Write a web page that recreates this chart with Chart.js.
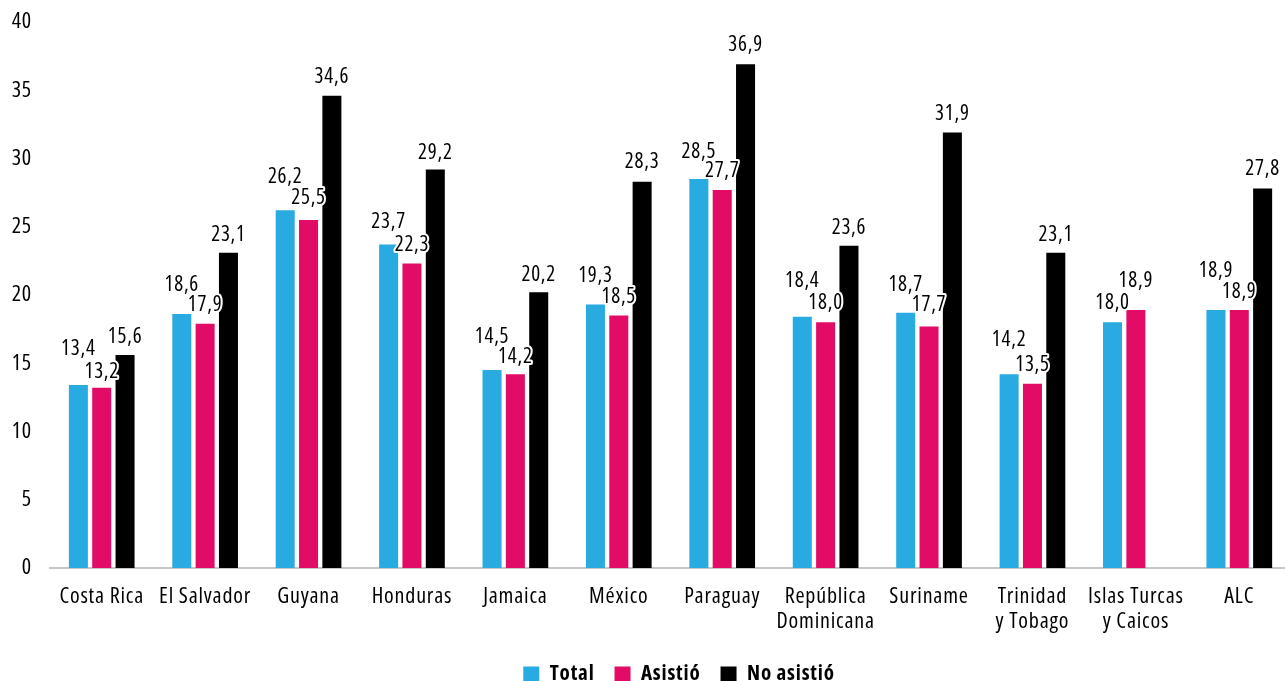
<!DOCTYPE html>
<html>
<head>
<meta charset="utf-8">
<script src="https://cdn.jsdelivr.net/npm/chart.js@4/dist/chart.umd.min.js"></script>
<style>
  html, body { margin: 0; padding: 0; background: #fff; overflow: hidden; }
  #wrap { width: 1291px; height: 681px; position: relative; }
</style>
</head>
<body>
<div id="wrap"><canvas id="c"></canvas></div>
<script>
const categories = [
  'Costa Rica', 'El Salvador', 'Guyana', 'Honduras', 'Jamaica', 'México',
  'Paraguay', ['República', 'Dominicana'], 'Suriname', ['Trinidad', 'y Tobago'],
  ['Islas Turcas', 'y Caicos'], 'ALC'
];
const total     = [13.4, 18.6, 26.2, 23.7, 14.5, 19.3, 28.5, 18.4, 18.7, 14.2, 18.0, 18.9];
const asistio   = [13.2, 17.9, 25.5, 22.3, 14.2, 18.5, 27.7, 18.0, 17.7, 13.5, 18.9, 18.9];
const noAsistio = [15.6, 23.1, 34.6, 29.2, 20.2, 28.3, 36.9, 23.6, 31.9, 23.1, null, 27.8];
const yTicks = [0, 5, 10, 15, 20, 25, 30, 35, 40];

// How far (px) each value label sits above its bar, per series, so that
// neighbouring labels step around each other instead of colliding.
const labelLift = [
  [36, 29, 33, 22, 33, 29, 27, 36, 28, 34, 19, 39],
  [16, 19, 22, 19, 17, 18, 19, 19, 21, 19, 29, 18],
  [18, 18, 19, 16, 17, 20, 19, 18, 19, 18, 0, 20]
];

const FONT = '"Open Sans", "Noto Sans", sans-serif';

const canvas = document.getElementById('c');
const ctx2d = canvas.getContext('2d');
// Every font set on this context is drawn condensed, slightly tracked out.
const fontDesc = Object.getOwnPropertyDescriptor(CanvasRenderingContext2D.prototype, 'font');
Object.defineProperty(ctx2d, 'font', {
  configurable: true,
  get() { return fontDesc.get.call(this); },
  set(v) {
    fontDesc.set.call(this, v);
    this.fontStretch = 'condensed';
    this.letterSpacing = '0.8px';
  }
});

// Value labels with a white halo above each bar
const valueLabels = {
  id: 'valueLabels',
  afterDatasetsDraw(chart, args, opts) {
    const ctx = chart.ctx;
    ctx.save();
    ctx.font = `${opts.size}px ${FONT}`;
    ctx.textAlign = 'center';
    ctx.textBaseline = 'middle';
    ctx.lineJoin = 'round';
    chart.data.datasets.forEach((ds, di) => {
      const meta = chart.getDatasetMeta(di);
      meta.data.forEach((bar, i) => {
        const v = ds.data[i];
        if (v === null || v === undefined) return;
        const txt = v.toFixed(1).replace('.', ',');
        const y = bar.y - opts.lift[di][i];
        ctx.strokeStyle = '#ffffff';
        ctx.lineWidth = 4;
        ctx.strokeText(txt, bar.x, y);
        ctx.fillStyle = '#000000';
        ctx.fillText(txt, bar.x, y);
      });
    });
    ctx.restore();
  }
};

// Moves the legend row sideways so its middle sits at a given x
const legendCenter = {
  id: 'legendCenter',
  afterLayout(chart, args, opts) {
    const lg = chart.legend;
    if (!lg) return;
    const d = opts.x - (lg.left + lg.right) / 2;
    lg.left += d;
    lg.right += d;
  }
};

new Chart(canvas, {
  type: 'bar',
  data: {
    labels: categories,
    datasets: [
      { label: 'Total', data: total, backgroundColor: '#29ABE2' },
      { label: 'Asistió', data: asistio, backgroundColor: '#E20B66' },
      { label: 'No asistió', data: noAsistio, backgroundColor: '#000000' }
    ]
  },
  options: {
    responsive: true,
    maintainAspectRatio: false,
    animation: false,
    devicePixelRatio: 1,
    datasets: { bar: { categoryPercentage: 0.677, barPercentage: 0.815 } },
    layout: { padding: { top: 22, right: 0, left: 0, bottom: -14 } },
    scales: {
      x: {
        grid: { display: false, drawTicks: false },
        border: { display: true, color: '#c6c6c6', width: 2 },
        afterFit: (s) => { s.height = 76; },
        ticks: {
          color: '#000',
          font: { family: FONT, size: 22, lineHeight: 1.14 },
          padding: 16,
          maxRotation: 0,
          autoSkip: false
        }
      },
      y: {
        min: 0,
        max: 40,
        grid: { display: false, drawTicks: true, tickLength: 18 },
        border: { display: false },
        afterBuildTicks: (s) => { s.ticks = yTicks.map(v => ({ value: v })); },
        afterFit: (s) => { s.width = 50; },
        ticks: {
          color: '#000',
          font: { family: FONT, size: 22 },
          padding: 0
        }
      }
    },
    plugins: {
      legend: {
        position: 'bottom',
        labels: {
          color: '#000',
          boxWidth: 16,
          boxHeight: 16,
          padding: 20,
          font: { family: FONT, size: 21, weight: 'bold' }
        }
      },
      tooltip: { enabled: false },
      valueLabels: { size: 21, lift: labelLift },
      legendCenter: { x: 679 }
    }
  },
  plugins: [valueLabels, legendCenter]
});
</script>
</body>
</html>
